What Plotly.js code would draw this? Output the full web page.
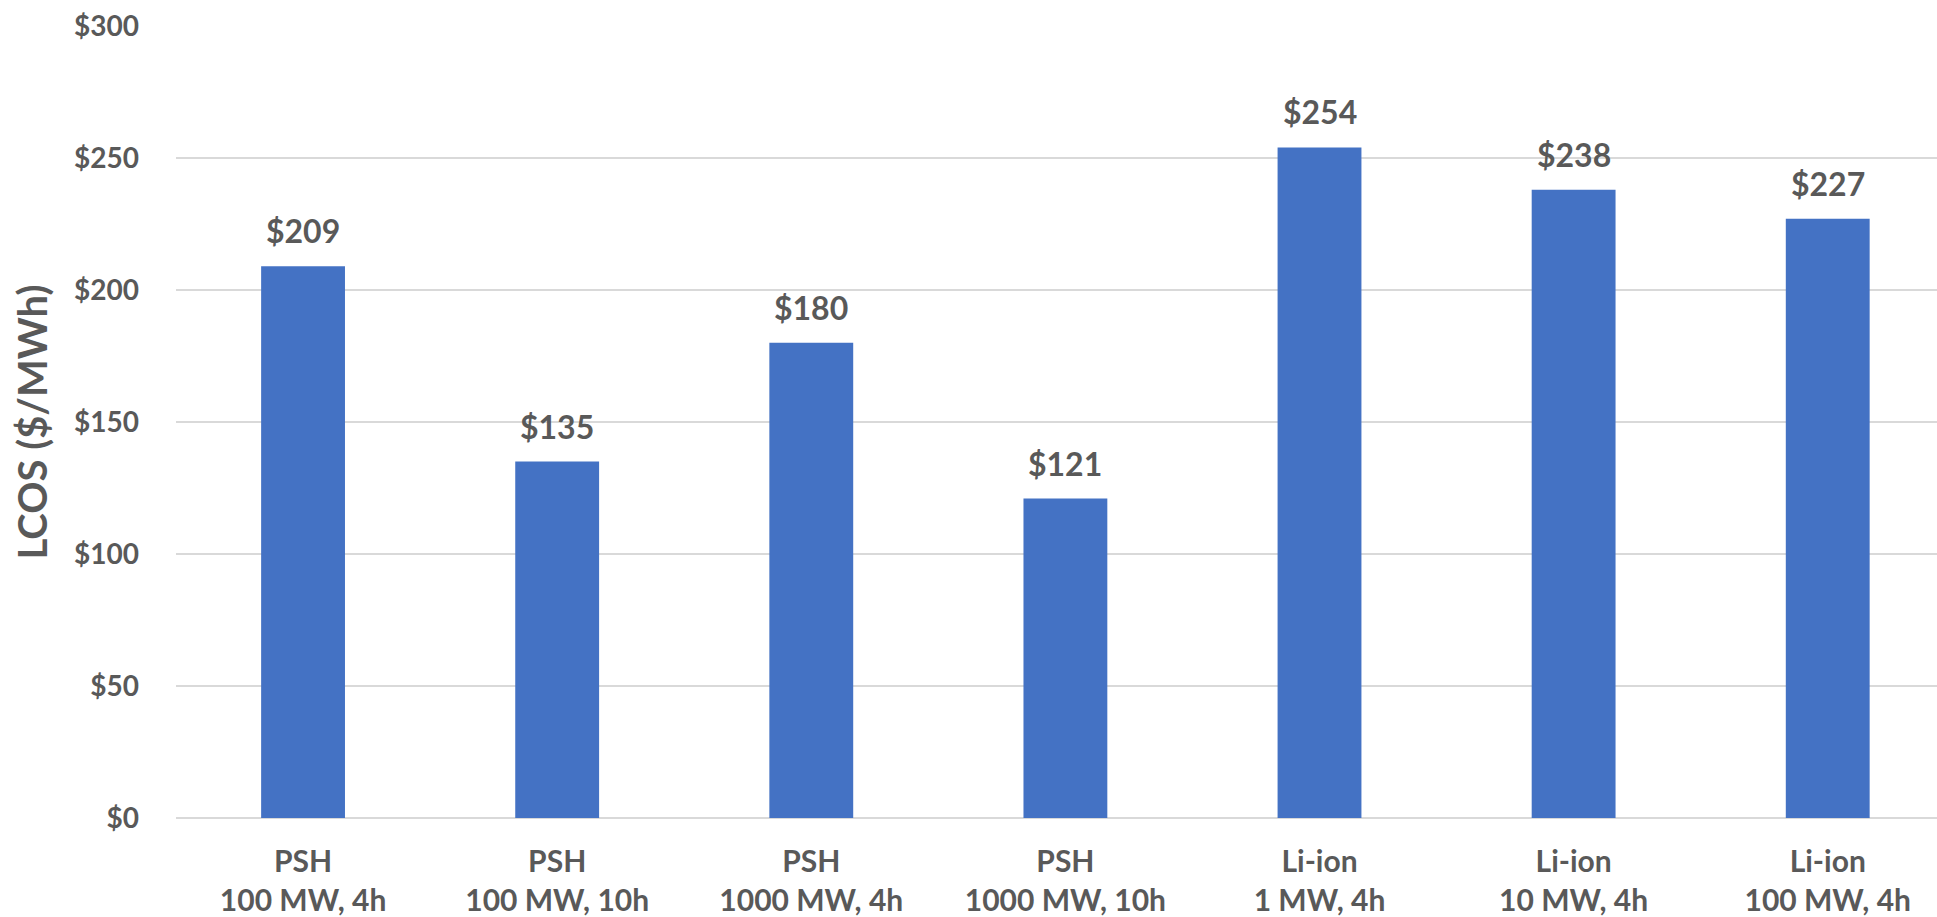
<!DOCTYPE html>
<html>
<head>
<meta charset="utf-8">
<script src="https://cdn.plot.ly/plotly-3.0.1.min.js"></script>
<style>html,body{margin:0;padding:0;background:#fff;}#chart{width:1937px;height:917px;}</style>
</head>
<body>
<div id="chart"></div>
<script>
const categories = [
  "PSH<br>100 MW, 4h",
  "PSH<br>100 MW, 10h",
  "PSH<br>1000 MW, 4h",
  "PSH<br>1000 MW, 10h",
  "Li-ion<br>1 MW, 4h",
  "Li-ion<br>10 MW, 4h",
  "Li-ion<br>100 MW, 4h"
];
const lcosValues = [209, 135, 180, 121, 254, 238, 227];
const yTickValues = [0, 50, 100, 150, 200, 250, 300];

const FONT = "Lato, 'Open Sans', sans-serif";
const GRAY = "#595959";

const trace = {
  type: "bar",
  x: categories,
  y: lcosValues,
  marker: {color: "#4472C4"},
  hoverinfo: "none"
};

const annotations = categories.map((c, i) => ({
  x: c, y: lcosValues[i], xref: "x", yref: "y",
  text: "$" + lcosValues[i],
  showarrow: false, yanchor: "bottom", yshift: 14,
  font: {family: FONT, size: 32, color: GRAY, weight: "bold"}
}));

const layout = {
  width: 1937, height: 917,
  margin: {l: 176, r: 0, t: 26, b: 99},
  paper_bgcolor: "#fff", plot_bgcolor: "#fff",
  showlegend: false,
  bargap: 0.67,
  xaxis: {
    range: [-0.5, 6.43],
    showgrid: false, zeroline: false,
    showline: false,
    ticks: "",
    ticklabelstandoff: 23,
    tickfont: {family: FONT, size: 30, color: GRAY, weight: "bold"},
    automargin: false
  },
  yaxis: {
    range: [0, 300],
    tickvals: yTickValues,
    ticktext: yTickValues.map(v => "$" + v),
    showgrid: true, gridcolor: "#D9D9D9", gridwidth: 1.5,
    zeroline: true, zerolinecolor: "#D9D9D9", zerolinewidth: 1.5,
    showline: false, ticks: "",
    ticklabelstandoff: 36,
    tickfont: {family: FONT, size: 28, color: GRAY, weight: "bold"},
    title: {text: "LCOS ($/MWh)", font: {family: FONT, size: 40, color: GRAY, weight: "bold"}, standoff: 14},
    automargin: false
  },
  annotations: annotations
};

Plotly.newPlot("chart", [trace], layout, {displayModeBar: false, staticPlot: true});
</script>
</body>
</html>
